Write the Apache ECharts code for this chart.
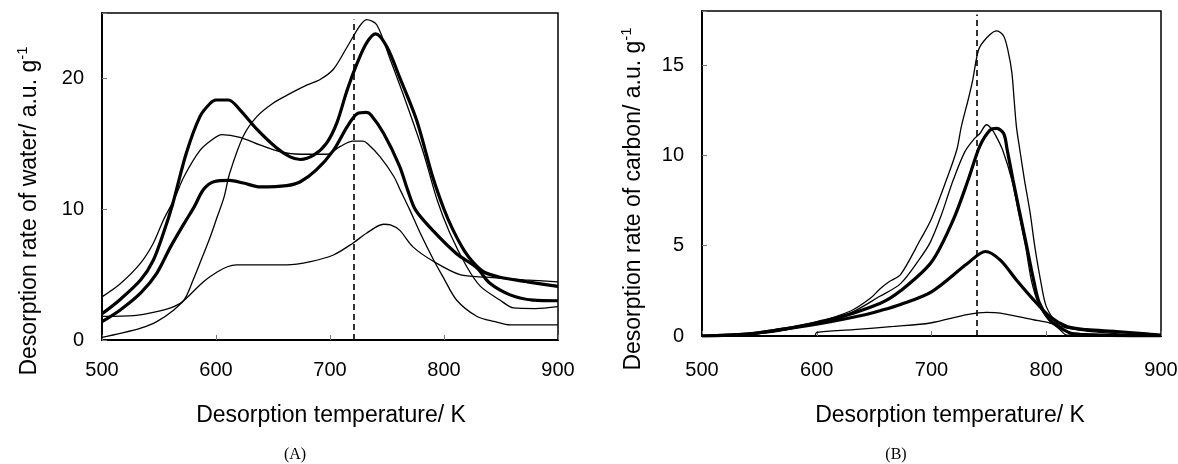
<!DOCTYPE html>
<html>
<head>
<meta charset="utf-8">
<script src="https://cdn.jsdelivr.net/npm/echarts@6/dist/echarts.min.js"></script>
<style>
  html, body { margin: 0; padding: 0; background: #fff; }
  #chart { width: 1178px; height: 464px; }
</style>
</head>
<body>
<div id="chart"></div>
<script>
// ---------- data: [temperature K, rate] ----------
// (A) water
const waterThick1 = [[500,2.0],[516,3.1],[534,4.6],[545,6.1],[554,8.2],[562,10.4],[574,14.3],[586,17.1],[595,18.1],[600,18.35],[611,18.35],[621,17.6],[636,16.1],[653,14.7],[665,14.0],[674,13.8],[686,14.15],[697,15.05],[706,16.6],[715,19.1],[724,21.2],[732,22.7],[740,23.4],[750,22.4],[761,20.1],[776,16.8],[790,12.5],[800,10.0],[808,8.4],[818,6.8],[826,5.9],[835,5.2],[849,4.8],[873,4.45],[900,4.1]];
const waterThick2 = [[500,1.4],[516,2.3],[534,3.6],[548,5.1],[560,7.1],[572,8.9],[581,10.2],[589,11.5],[598,12.1],[612,12.2],[624,12.0],[639,11.7],[662,11.8],[674,12.1],[688,13.0],[703,14.5],[715,16.3],[724,17.3],[732,17.4],[736,17.2],[747,15.8],[761,13.3],[768,11.5],[775,9.95],[791,8.3],[811,6.6],[829,5.5],[840,4.35],[858,3.45],[878,3.05],[900,3.0]];
const waterThin1 = [[500,3.3],[516,4.3],[534,5.9],[545,7.4],[554,9.2],[563,10.7],[572,12.5],[586,14.5],[598,15.4],[605,15.7],[621,15.5],[639,14.9],[656,14.4],[674,14.2],[697,14.2],[709,14.8],[720,15.2],[729,15.2],[733,15.0],[744,14.0],[756,12.5],[762,11.4],[770,9.95],[779,8.2],[791,6.1],[799,4.85],[811,3.06],[829,1.8],[845,1.4],[858,1.15],[900,1.15]];
const waterThin2 = [[500,1.8],[528,1.86],[548,2.17],[563,2.55],[572,3.06],[580,4.6],[586,5.9],[595,7.9],[601,9.4],[607,10.9],[612,12.75],[624,15.6],[636,17.1],[650,18.1],[662,18.7],[680,19.5],[691,19.9],[703,20.7],[715,22.4],[726,24.0],[732,24.5],[741,24.1],[753,21.4],[767,18.1],[782,14.3],[794,10.7],[805,8.2],[820,5.6],[832,4.1],[849,3.06],[861,2.45],[880,2.4],[900,2.55]];
const waterThin3 = [[500,0.2],[516,0.5],[534,0.9],[548,1.4],[563,2.3],[577,3.44],[589,4.46],[601,5.2],[610,5.6],[618,5.75],[640,5.75],[662,5.75],[683,6.0],[703,6.5],[720,7.4],[732,8.16],[747,8.85],[753,8.8],[761,8.4],[773,7.1],[791,6.0],[814,5.0],[837,4.8],[870,4.6],[900,4.45]];
const waterDashT = 721;
const waterDashTop = 24.5;

// (B) carbon
const carbonThin1 = [[500,0],[532,0.05],[565,0.24],[597,0.7],[630,1.4],[647,2.1],[655,2.6],[663,3.0],[673,3.4],[690,5.3],[700,6.5],[713,8.65],[722,10.3],[726,11.6],[732,13.1],[736,14.2],[739,15.3],[742,16.0],[751,16.7],[757,16.9],[763,16.6],[767,15.7],[770,14.6],[772,13.1],[774,11.6],[777,10.3],[781,8.65],[786,6.8],[790,4.96],[795,3.1],[800,1.64],[809,0.72],[818,0.25],[840,0.1],[900,0.05]];
const carbonThin2 = [[500,0],[540,0.1],[568,0.35],[600,0.8],[630,1.3],[655,2.2],[673,2.9],[690,4.3],[699,5.2],[708,6.6],[719,8.65],[729,10.2],[737,10.9],[742,11.2],[748,11.7],[752,11.5],[756,11.1],[762,10.3],[770,8.65],[776,6.8],[782,4.96],[787,3.1],[793,1.83],[802,0.9],[812,0.35],[818,0.05],[900,0]];
const carbonThick1 = [[500,0],[539,0.1],[568,0.35],[612,0.9],[655,1.8],[673,2.5],[700,4.1],[719,6.44],[732,8.65],[742,10.5],[751,11.4],[757,11.5],[763,11.2],[766,10.3],[771,8.65],[777,6.8],[783,4.96],[789,3.1],[794,1.83],[803,0.9],[815,0.35],[824,0.1],[900,0]];
const carbonThick2 = [[500,0],[539,0.1],[568,0.35],[612,0.8],[640,1.15],[655,1.4],[673,1.75],[700,2.45],[731,4.0],[747,4.68],[760,4.2],[774,3.1],[789,2.0],[803,1.08],[818,0.53],[835,0.35],[861,0.25],[890,0.1],[900,0.05]];
const carbonThin3 = [[500,0],[598,0],[600,0.2],[632,0.35],[667,0.53],[699,0.72],[731,1.18],[748,1.31],[760,1.27],[789,0.9],[803,0.72],[818,0.44],[847,0.2],[890,0.05],[900,0.05]];
const carbonDashT = 739;
const carbonDashTop = 17.8;

const xMin = 500, xMax = 900, xStep = 100;
const waterMax = 25, waterStep = 10;
const carbonMax = 18, carbonStep = 5;

// ---------- helpers ----------
const FONT = '"Liberation Sans", Arial, sans-serif';
const SERIF = '"Liberation Serif", "Times New Roman", serif';

function curve(data, thick, gi, dash) {
    const s = {
        type: 'line',
        xAxisIndex: gi,
        yAxisIndex: gi,
        data: data,
        showSymbol: false,
        smooth: 0.3,
        silent: true,
        lineStyle: { color: '#000', width: thick ? 3.2 : 1.3 },
        z: thick ? 3 : 2
    };
    if (dash) {
        s.markLine = {
            silent: true,
            symbol: 'none',
            label: { show: false },
            lineStyle: { color: '#000', type: [6, 4], width: 1.6 },
            data: [[{ coord: [dash[0], 0] }, { coord: [dash[0], dash[1]] }]]
        };
    }
    return s;
}

function xAxisFor(gi, margin) {
    return {
        type: 'value', gridIndex: gi, min: xMin, max: xMax, interval: xStep,
        axisLine: { show: true, lineStyle: { color: '#000', width: 2 } },
        axisTick: { show: true, inside: true, length: 5, lineStyle: { color: '#777', width: 1 } },
        axisLabel: { color: '#000', fontSize: 20, fontFamily: FONT, margin: margin, hideOverlap: false },
        splitLine: { show: false }
    };
}

function yAxisFor(gi, max, step) {
    return {
        type: 'value', gridIndex: gi, min: 0, max: max, interval: step,
        axisLine: { show: true, lineStyle: { color: '#000', width: 2 } },
        axisTick: { show: true, inside: true, length: 5, lineStyle: { color: '#777', width: 1 } },
        axisLabel: {
            color: '#000', fontSize: 20, fontFamily: FONT, margin: 18,
            formatter: v => (v % step === 0 ? String(v) : '')
        },
        splitLine: { show: false }
    };
}

function yTitle(x, y, word) {
    return {
        type: 'text', x: x, y: y, rotation: Math.PI / 2, silent: true,
        style: {
            text: 'Desorption rate of ' + word + '/ a.u. g{sup|-1}',
            fontSize: 23, fontFamily: FONT, fill: '#000', lineHeight: 30,
            align: 'center', verticalAlign: 'middle',
            rich: { sup: { fontSize: 15, fontFamily: FONT, verticalAlign: 'top', lineHeight: 15, fill: '#000' } }
        }
    };
}

function plainText(x, y, text, size, family) {
    return {
        type: 'text', x: x, y: y, silent: true,
        style: { text: text, fontSize: size, fontFamily: family, fill: '#000', align: 'center', verticalAlign: 'middle' }
    };
}

const chart = echarts.init(document.getElementById('chart'), null, { renderer: 'canvas' });

const option = {
    animation: false,
    backgroundColor: '#fff',
    grid: [
        { left: 102, top: 13, width: 456, height: 327, show: true, borderColor: '#000', borderWidth: 1.5, containLabel: false, outerBoundsMode: 'none' },
        { left: 702, top: 11, width: 459, height: 325, show: true, borderColor: '#000', borderWidth: 1.5, containLabel: false, outerBoundsMode: 'none' }
    ],
    xAxis: [xAxisFor(0, 20), xAxisFor(1, 24)],
    yAxis: [yAxisFor(0, waterMax, waterStep), yAxisFor(1, carbonMax, carbonStep)],
    series: [
        curve(waterThin3, false, 0),
        curve(waterThin1, false, 0),
        curve(waterThin2, false, 0, [waterDashT, waterDashTop]),
        curve(waterThick2, true, 0),
        curve(waterThick1, true, 0),
        curve(carbonThin3, false, 1),
        curve(carbonThin2, false, 1),
        curve(carbonThin1, false, 1, [carbonDashT, carbonDashTop]),
        curve(carbonThick2, true, 1),
        curve(carbonThick1, true, 1)
    ],
    graphic: [
        yTitle(30, 211, 'water'),
        yTitle(634, 199, 'carbon'),
        plainText(331, 416, 'Desorption temperature/ K', 23, FONT),
        plainText(950, 416, 'Desorption temperature/ K', 23, FONT),
        plainText(295, 455, '(A)', 16, SERIF),
        plainText(896, 455, '(B)', 16, SERIF)
    ]
};

chart.setOption(option);
</script>
</body>
</html>
